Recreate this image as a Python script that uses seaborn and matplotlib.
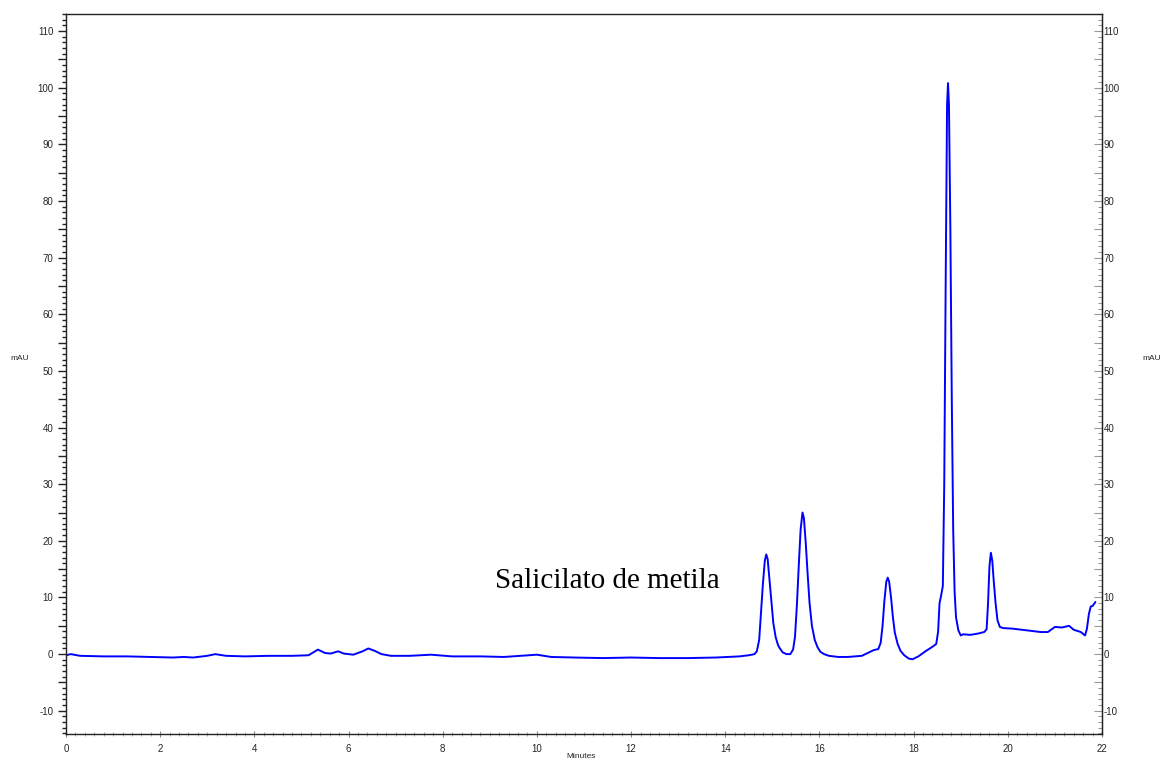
import matplotlib
matplotlib.use("Agg")
import matplotlib.pyplot as plt
import seaborn as sns
import pandas as pd
from matplotlib.ticker import MultipleLocator, FuncFormatter

# ---- data ----
time_min = [
    0.00, 0.10, 0.30, 0.80, 1.30, 1.80, 2.27, 2.50, 2.70, 3.00, 3.17, 3.40, 3.80,
    4.30, 4.80, 5.15, 5.35, 5.50, 5.62, 5.78, 5.90, 6.10, 6.30, 6.42, 6.55, 6.70,
    6.90, 7.30, 7.75, 8.20, 8.80, 9.30, 10.00, 10.30, 10.80, 11.40, 12.00, 12.60,
    13.20, 13.80, 14.30, 14.50, 14.62, 14.67, 14.72, 14.76, 14.80, 14.84, 14.87,
    14.90, 14.94, 14.98, 15.02, 15.07, 15.12, 15.16, 15.22, 15.30, 15.38, 15.44,
    15.48, 15.52, 15.56, 15.60, 15.64, 15.67, 15.71, 15.75, 15.79, 15.84, 15.90,
    15.96, 16.02, 16.10, 16.20, 16.40, 16.60, 16.90, 17.05, 17.15, 17.25, 17.30,
    17.34, 17.38, 17.42, 17.45, 17.48, 17.52, 17.56, 17.60, 17.66, 17.72, 17.80,
    17.90, 17.98, 18.10, 18.25, 18.40, 18.48, 18.52, 18.55, 18.58, 18.62, 18.65,
    18.68, 18.71, 18.73, 18.75, 18.78, 18.81, 18.84, 18.87, 18.90, 18.95, 19.00,
    19.05, 19.20, 19.35, 19.50, 19.55, 19.58, 19.61, 19.64, 19.67, 19.70, 19.74,
    19.78, 19.83, 19.90, 20.10, 20.40, 20.70, 20.85, 21.00, 21.15, 21.30, 21.40,
    21.55, 21.64, 21.68, 21.72, 21.76, 21.80, 21.86,
]
absorbance_mau = [
    -0.2, 0.0, -0.3, -0.4, -0.4, -0.5, -0.6, -0.5, -0.6, -0.3, 0.0, -0.3, -0.4,
    -0.3, -0.3, -0.2, 0.8, 0.2, 0.1, 0.5, 0.1, -0.1, 0.5, 1.0, 0.6, 0.0,
    -0.3, -0.3, -0.1, -0.4, -0.4, -0.5, -0.1, -0.5, -0.6, -0.7, -0.6, -0.7,
    -0.7, -0.6, -0.4, -0.2, 0.0, 0.5, 2.5, 7.5, 12.5, 16.5, 17.6,
    16.8, 13.0, 9.0, 5.5, 3.0, 1.6, 1.0, 0.3, 0.0, 0.0, 0.8,
    3.0, 8.5, 15.5, 22.0, 25.0, 24.0, 19.5, 14.0, 9.0, 5.0, 2.5,
    1.2, 0.4, 0.0, -0.3, -0.5, -0.5, -0.3, 0.3, 0.7, 0.9, 2.0,
    5.0, 9.5, 12.8, 13.5, 12.8, 10.0, 6.5, 3.8, 1.8, 0.6, -0.2,
    -0.8, -0.9, -0.4, 0.5, 1.3, 1.8, 4.0, 9.0, 10.2, 12.0, 30.0,
    65.0, 97.0, 100.8, 97.0, 75.0, 45.0, 22.0, 11.0, 6.5, 4.2, 3.3,
    3.5, 3.4, 3.6, 3.9, 4.4, 9.0, 15.5, 17.9, 16.5, 13.0, 9.0,
    6.0, 4.8, 4.6, 4.5, 4.2, 3.9, 3.9, 4.8, 4.7, 5.0, 4.3,
    3.9, 3.3, 4.5, 7.0, 8.4, 8.5, 9.2,
]

x_major = [0, 2, 4, 6, 8, 10, 12, 14, 16, 18, 20, 22]
y_major = [-10, 0, 10, 20, 30, 40, 50, 60, 70, 80, 90, 100, 110]
peak_label = "Salicilato de metila"

df = pd.DataFrame({"Minutes": time_min, "mAU": absorbance_mau})

sns.set_style("white")
plt.rcParams["font.family"] = ["Liberation Sans", "DejaVu Sans"]

fig = plt.figure(figsize=(11.6, 7.62), dpi=100)
ax = fig.add_axes([66 / 1160, 1 - 734 / 762, (1102 - 66) / 1160, (734 - 14) / 762])

sns.lineplot(data=df, x="Minutes", y="mAU", ax=ax, color="#0000ff",
             linewidth=1.4, estimator=None, sort=False)

ax.set_xlim(0, 22)
ax.set_ylim(-14.1, 113)
ax.set_xlabel("")
ax.set_ylabel("")

for s in ax.spines.values():
    s.set_visible(True)
    s.set_color("#222222")
    s.set_linewidth(1.0)

# x axis ticks
ax.set_xticks(x_major)
ax.xaxis.set_minor_locator(MultipleLocator(0.2))
ax.tick_params(axis="x", which="major", direction="inout", length=5, width=0.8,
               color="#888888", labelsize=7, pad=5, bottom=True)
ax.tick_params(axis="x", which="minor", direction="inout", length=3, width=0.6,
               color="#999999", bottom=True)

# left y axis ticks: majors at 5, labels at 10s
ax.yaxis.set_major_locator(MultipleLocator(5))
ax.yaxis.set_minor_locator(MultipleLocator(1))
ax.yaxis.set_major_formatter(FuncFormatter(
    lambda v, p: f"{int(round(v))}" if int(round(v)) in y_major else ""))
ax.tick_params(axis="y", which="major", direction="out", length=6, width=1.0,
               color="#222222", labelsize=7, pad=3, left=True)
ax.tick_params(axis="y", which="minor", direction="out", length=3, width=1.0,
               color="#222222", left=True)

# right y axis
sec = ax.secondary_yaxis("right")
sec.yaxis.set_major_locator(MultipleLocator(5))
sec.yaxis.set_minor_locator(MultipleLocator(1))
sec.yaxis.set_major_formatter(FuncFormatter(
    lambda v, p: f"{int(round(v))}" if int(round(v)) in y_major else ""))
sec.tick_params(axis="y", which="major", direction="in", length=6, width=0.8,
                color="#999999", labelsize=7, pad=1)
sec.tick_params(axis="y", which="minor", direction="in", length=3, width=0.8,
                color="#999999")
sec.spines["right"].set_color("#222222")

# texts
ax.text(9.11, 11.65, peak_label, family=["Liberation Serif", "DejaVu Serif"],
        fontsize=21, ha="left", va="baseline", color="black")
fig.text(581 / 1160, 1 - 757 / 762, "Minutes", fontsize=6, ha="center", va="center")
fig.text(20 / 1160, 1 - 358 / 762, "mAU", fontsize=6, ha="center", va="center")
fig.text(1152 / 1160, 1 - 358 / 762, "mAU", fontsize=6, ha="center", va="center")

fig.savefig("out.png", dpi=100)
